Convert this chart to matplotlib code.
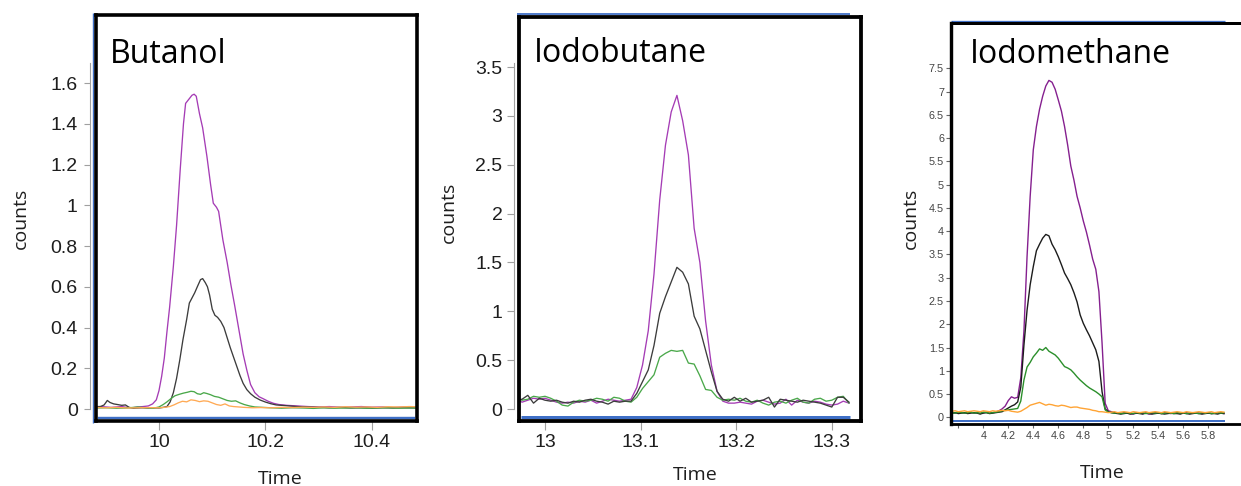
import matplotlib
matplotlib.use('Agg')
import matplotlib.pyplot as plt
from matplotlib.lines import Line2D

plt.rcParams['font.family'] = ['Liberation Sans', 'DejaVu Sans']

W, H = 1241, 486

# ---------------- data: Butanol ----------------
bt_purple_t = [9.880, 9.890, 9.900, 9.910, 9.920, 9.930, 9.940, 9.950, 9.960, 9.970,
               9.980, 9.988, 9.995, 10.000, 10.005, 10.010, 10.015, 10.020, 10.027, 10.033,
               10.040, 10.046, 10.050, 10.056, 10.062, 10.066, 10.070, 10.076, 10.082, 10.090,
               10.097, 10.102, 10.108, 10.112, 10.120, 10.128, 10.135, 10.142, 10.150, 10.158,
               10.165, 10.172, 10.180, 10.188, 10.196, 10.205, 10.215, 10.225, 10.24, 10.26,
               10.28, 10.30, 10.32, 10.34, 10.36, 10.38, 10.40, 10.42, 10.44, 10.46,
               10.485]
bt_purple_v = [0.010, 0.012, 0.010, 0.008, 0.010, 0.012, 0.008, 0.006, 0.010, 0.012,
               0.015, 0.025, 0.045, 0.09, 0.16, 0.25, 0.38, 0.50, 0.70, 0.90,
               1.18, 1.40, 1.50, 1.52, 1.54, 1.545, 1.535, 1.45, 1.38, 1.24,
               1.10, 1.01, 0.99, 0.97, 0.83, 0.72, 0.61, 0.51, 0.39, 0.27,
               0.19, 0.12, 0.08, 0.06, 0.05, 0.038, 0.028, 0.022, 0.018, 0.015,
               0.012, 0.010, 0.012, 0.008, 0.010, 0.012, 0.009, 0.010, 0.007, 0.010,
               0.010]
bt_black_t = [9.880, 9.890, 9.897, 9.903, 9.908, 9.915, 9.922, 9.930, 9.937, 9.944,
              9.952, 9.960, 9.970, 9.980, 9.990, 10.000, 10.008, 10.015, 10.021, 10.027,
              10.033, 10.039, 10.045, 10.052, 10.057, 10.062, 10.067, 10.072, 10.078, 10.082,
              10.087, 10.091, 10.095, 10.100, 10.105, 10.110, 10.116, 10.122, 10.128, 10.134,
              10.140, 10.146, 10.152, 10.158, 10.165, 10.172, 10.180, 10.190, 10.200, 10.210,
              10.22, 10.24, 10.26, 10.28, 10.30, 10.32, 10.34, 10.36, 10.38, 10.40,
              10.42, 10.44, 10.46, 10.485]
bt_black_v = [0.012, 0.012, 0.020, 0.042, 0.032, 0.025, 0.022, 0.018, 0.020, 0.008,
              0.004, 0.005, 0.006, 0.005, 0.006, 0.005, 0.008, 0.012, 0.035, 0.08,
              0.15, 0.24, 0.34, 0.44, 0.52, 0.545, 0.57, 0.60, 0.635, 0.64,
              0.62, 0.60, 0.56, 0.49, 0.46, 0.45, 0.43, 0.40, 0.35, 0.30,
              0.255, 0.21, 0.165, 0.126, 0.095, 0.075, 0.058, 0.044, 0.034, 0.026,
              0.020, 0.016, 0.012, 0.010, 0.008, 0.006, 0.008, 0.005, 0.006, 0.004,
              0.006, 0.005, 0.006, 0.005]
bt_green_t = [9.880, 9.900, 9.920, 9.940, 9.960, 9.975, 9.990, 10.000, 10.008, 10.015,
              10.022, 10.030, 10.038, 10.046, 10.053, 10.060, 10.066, 10.072, 10.078, 10.084,
              10.090, 10.097, 10.104, 10.112, 10.120, 10.128, 10.136, 10.144, 10.152, 10.160,
              10.170, 10.180, 10.195, 10.21, 10.23, 10.25, 10.27, 10.29, 10.31, 10.33,
              10.35, 10.37, 10.39, 10.41, 10.43, 10.45, 10.47, 10.485]
bt_green_v = [0.005, 0.006, 0.004, 0.005, 0.010, 0.006, 0.004, 0.010, 0.022, 0.035,
              0.050, 0.065, 0.072, 0.078, 0.082, 0.087, 0.085, 0.075, 0.072, 0.080,
              0.076, 0.070, 0.062, 0.058, 0.050, 0.042, 0.038, 0.040, 0.030, 0.022,
              0.015, 0.010, 0.008, 0.006, 0.004, 0.006, 0.005, 0.003, 0.006, 0.004,
              0.005, 0.006, 0.004, 0.005, 0.006, 0.004, 0.005, 0.005]
bt_orange_t = [9.880, 9.900, 9.920, 9.940, 9.960, 9.980, 10.000, 10.010, 10.020, 10.028,
               10.036, 10.044, 10.052, 10.060, 10.068, 10.076, 10.084, 10.092, 10.100, 10.108,
               10.116, 10.124, 10.132, 10.140, 10.150, 10.160, 10.175, 10.19, 10.21, 10.23,
               10.25, 10.27, 10.29, 10.31, 10.33, 10.35, 10.37, 10.39, 10.41, 10.43,
               10.45, 10.47, 10.485]
bt_orange_v = [0.008, 0.006, 0.008, 0.005, 0.006, 0.007, 0.006, 0.008, 0.012, 0.020,
               0.030, 0.038, 0.035, 0.045, 0.042, 0.036, 0.040, 0.038, 0.030, 0.022,
               0.018, 0.025, 0.015, 0.012, 0.010, 0.008, 0.006, 0.007, 0.006, 0.008,
               0.007, 0.009, 0.008, 0.010, 0.008, 0.011, 0.009, 0.010, 0.008, 0.011,
               0.010, 0.012, 0.011]
bt_xticks = [10.0, 10.2, 10.4]
bt_xticklabels = ['10', '10.2', '10.4']
bt_yticks = [0, 0.2, 0.4, 0.6, 0.8, 1.0, 1.2, 1.4, 1.6]
bt_yticklabels = ['0', '0.2', '0.4', '0.6', '0.8', '1', '1.2', '1.4', '1.6']

# ---------------- data: Iodobutane ----------------
ib_time = [12.970, 12.976, 12.982, 12.988, 12.994, 13.000, 13.006, 13.012, 13.018, 13.024,
           13.030, 13.036, 13.042, 13.048, 13.054, 13.060, 13.066, 13.072, 13.078, 13.084,
           13.090, 13.096, 13.102, 13.108, 13.114, 13.120, 13.126, 13.132, 13.138, 13.144,
           13.150, 13.156, 13.162, 13.168, 13.174, 13.180, 13.186, 13.192, 13.198, 13.204,
           13.210, 13.216, 13.222, 13.228, 13.234, 13.240, 13.246, 13.252, 13.258, 13.264,
           13.270, 13.276, 13.282, 13.288, 13.294, 13.300, 13.306, 13.312, 13.318]
ib_purple = [0.10, 0.07, 0.09, 0.11, 0.10, 0.11, 0.09, 0.07, 0.06, 0.07,
             0.06, 0.08, 0.07, 0.09, 0.06, 0.08, 0.10, 0.09, 0.08, 0.09,
             0.10, 0.22, 0.45, 0.80, 1.38, 2.14, 2.70, 3.04, 3.21, 2.95,
             2.60, 1.85, 1.50, 0.90, 0.45, 0.18, 0.08, 0.06, 0.06, 0.07,
             0.06, 0.05, 0.08, 0.09, 0.07, 0.05, 0.06, 0.10, 0.04, 0.09,
             0.07, 0.06, 0.08, 0.07, 0.05, 0.04, 0.05, 0.08, 0.06]
ib_black = [0.09, 0.10, 0.14, 0.06, 0.11, 0.09, 0.08, 0.09, 0.07, 0.06,
            0.08, 0.07, 0.09, 0.10, 0.08, 0.07, 0.05, 0.08, 0.07, 0.08,
            0.08, 0.16, 0.28, 0.40, 0.65, 0.98, 1.15, 1.30, 1.45, 1.40,
            1.28, 0.95, 0.82, 0.60, 0.38, 0.18, 0.10, 0.08, 0.12, 0.08,
            0.11, 0.07, 0.08, 0.09, 0.12, 0.02, 0.10, 0.09, 0.08, 0.07,
            0.09, 0.08, 0.07, 0.06, 0.04, 0.02, 0.12, 0.12, 0.07]
ib_green = [0.11, 0.09, 0.10, 0.13, 0.12, 0.13, 0.11, 0.08, 0.04, 0.03,
            0.07, 0.09, 0.08, 0.09, 0.11, 0.10, 0.08, 0.12, 0.11, 0.08,
            0.07, 0.12, 0.21, 0.28, 0.35, 0.53, 0.57, 0.60, 0.59, 0.60,
            0.47, 0.46, 0.34, 0.20, 0.19, 0.12, 0.09, 0.10, 0.09, 0.11,
            0.08, 0.07, 0.09, 0.06, 0.04, 0.07, 0.08, 0.06, 0.09, 0.11,
            0.07, 0.06, 0.10, 0.11, 0.08, 0.09, 0.12, 0.13, 0.06]
ib_xticks = [13.0, 13.1, 13.2, 13.3]
ib_xticklabels = ['13', '13.1', '13.2', '13.3']
ib_yticks = [0, 0.5, 1.0, 1.5, 2.0, 2.5, 3.0, 3.5]
ib_yticklabels = ['0', '0.5', '1', '1.5', '2', '2.5', '3', '3.5']

# ---------------- data: Iodomethane ----------------
im_time = [3.750, 3.775, 3.800, 3.825, 3.850, 3.875, 3.900, 3.925, 3.950, 3.975,
           4.000, 4.025, 4.050, 4.075, 4.100, 4.125, 4.150, 4.175, 4.200, 4.225,
           4.250, 4.275, 4.300, 4.325, 4.350, 4.375, 4.400, 4.425, 4.450, 4.475,
           4.500, 4.525, 4.550, 4.575, 4.600, 4.625, 4.650, 4.675, 4.700, 4.725,
           4.750, 4.775, 4.800, 4.825, 4.850, 4.875, 4.900, 4.925, 4.950, 4.975,
           5.000, 5.025, 5.050, 5.075, 5.100, 5.125, 5.150, 5.175, 5.200, 5.225,
           5.250, 5.275, 5.300, 5.325, 5.350, 5.375, 5.400, 5.425, 5.450, 5.475,
           5.500, 5.525, 5.550, 5.575, 5.600, 5.625, 5.650, 5.675, 5.700, 5.725,
           5.750, 5.775, 5.800, 5.825, 5.850, 5.875, 5.900, 5.925]
im_purple = [0.10, 0.09, 0.11, 0.10, 0.09, 0.10, 0.11, 0.09, 0.10, 0.08,
             0.10, 0.11, 0.09, 0.10, 0.11, 0.14, 0.18, 0.24, 0.36, 0.44,
             0.41, 0.43, 0.85, 1.85, 3.45, 4.75, 5.75, 6.25, 6.62, 6.90,
             7.12, 7.24, 7.20, 7.05, 6.82, 6.58, 6.25, 5.85, 5.40, 5.10,
             4.75, 4.50, 4.22, 3.98, 3.70, 3.40, 3.18, 2.70, 1.60, 0.30,
             0.14, 0.12, 0.10, 0.09, 0.08, 0.10, 0.09, 0.08, 0.07, 0.09,
             0.10, 0.08, 0.09, 0.07, 0.08, 0.10, 0.09, 0.08, 0.10, 0.09,
             0.08, 0.09, 0.10, 0.08, 0.09, 0.10, 0.08, 0.09, 0.10, 0.09,
             0.08, 0.10, 0.09, 0.08, 0.09, 0.10, 0.09, 0.08]
im_black = [0.09, 0.10, 0.08, 0.09, 0.10, 0.08, 0.09, 0.10, 0.09, 0.07,
            0.09, 0.10, 0.08, 0.09, 0.10, 0.11, 0.12, 0.16, 0.20, 0.24,
            0.27, 0.33, 0.65, 1.55, 2.30, 2.85, 3.24, 3.58, 3.72, 3.85,
            3.93, 3.90, 3.72, 3.60, 3.45, 3.28, 3.10, 2.98, 2.85, 2.68,
            2.48, 2.20, 2.02, 1.88, 1.75, 1.60, 1.45, 1.20, 0.55, 0.18,
            0.12, 0.10, 0.09, 0.08, 0.07, 0.08, 0.09, 0.07, 0.08, 0.09,
            0.08, 0.07, 0.09, 0.08, 0.07, 0.08, 0.09, 0.08, 0.07, 0.08,
            0.09, 0.08, 0.08, 0.07, 0.09, 0.08, 0.07, 0.08, 0.09, 0.08,
            0.07, 0.08, 0.09, 0.08, 0.08, 0.07, 0.09, 0.08]
im_green = [0.10, 0.09, 0.11, 0.10, 0.09, 0.10, 0.11, 0.09, 0.10, 0.09,
            0.11, 0.10, 0.09, 0.10, 0.11, 0.12, 0.14, 0.15, 0.16, 0.17,
            0.18, 0.19, 0.35, 0.80, 1.08, 1.18, 1.30, 1.38, 1.47, 1.44,
            1.50, 1.42, 1.38, 1.34, 1.27, 1.18, 1.09, 1.06, 1.02, 0.95,
            0.87, 0.80, 0.74, 0.68, 0.63, 0.59, 0.55, 0.50, 0.44, 0.16,
            0.11, 0.10, 0.09, 0.10, 0.08, 0.09, 0.10, 0.09, 0.08, 0.10,
            0.09, 0.10, 0.08, 0.09, 0.10, 0.09, 0.10, 0.08, 0.09, 0.10,
            0.09, 0.08, 0.10, 0.09, 0.10, 0.08, 0.09, 0.10, 0.09, 0.08,
            0.10, 0.09, 0.10, 0.08, 0.09, 0.10, 0.09, 0.10]
im_orange = [0.13, 0.14, 0.12, 0.13, 0.14, 0.12, 0.13, 0.14, 0.13, 0.12,
             0.14, 0.13, 0.12, 0.14, 0.13, 0.14, 0.15, 0.14, 0.15, 0.13,
             0.12, 0.11, 0.13, 0.17, 0.21, 0.26, 0.28, 0.30, 0.32, 0.29,
             0.26, 0.28, 0.27, 0.25, 0.24, 0.26, 0.25, 0.23, 0.21, 0.22,
             0.22, 0.20, 0.19, 0.18, 0.17, 0.15, 0.14, 0.12, 0.12, 0.11,
             0.10, 0.11, 0.12, 0.10, 0.11, 0.12, 0.11, 0.10, 0.12, 0.11,
             0.10, 0.11, 0.12, 0.10, 0.11, 0.12, 0.11, 0.10, 0.12, 0.11,
             0.10, 0.11, 0.12, 0.11, 0.10, 0.12, 0.11, 0.10, 0.11, 0.12,
             0.11, 0.10, 0.11, 0.12, 0.10, 0.11, 0.12, 0.11]
im_xticks = [3.8, 4.0, 4.2, 4.4, 4.6, 4.8, 5.0, 5.2, 5.4, 5.6, 5.8]
im_xticklabels = ['', '4', '4.2', '4.4', '4.6', '4.8', '5', '5.2', '5.4', '5.6', '5.8']
im_yticks = [0, 0.5, 1.0, 1.5, 2.0, 2.5, 3.0, 3.5, 4.0, 4.5, 5.0, 5.5, 6.0, 6.5, 7.0, 7.5]
im_yticklabels = ['0', '0.5', '1', '1.5', '2', '2.5', '3', '3.5', '4', '4.5',
                  '5', '5.5', '6', '6.5', '7', '7.5']

titles = ['Butanol', 'Iodobutane', 'Iodomethane']
x_label = 'Time'
y_label = 'counts'

# ---------------- drawing ----------------
TEXT_FONT = ['Open Sans', 'DejaVu Sans']
BLUE = '#3f6fc6'
AXGRAY = '#a0a0a0'

fig = plt.figure(figsize=(W / 100, H / 100), dpi=100)
fig.patch.set_facecolor('white')


def px_axes(x0, y_top, x1, y_bot):
    ax = fig.add_axes([x0 / W, 1 - y_bot / H, (x1 - x0) / W, (y_bot - y_top) / H])
    ax.patch.set_visible(False)
    for s in ax.spines.values():
        s.set_visible(False)
    return ax


def px_line(x0, y0, x1, y1, color, lw_px, cap='butt'):
    fig.add_artist(Line2D([x0 / W, x1 / W], [1 - y0 / H, 1 - y1 / H],
                          transform=fig.transFigure, color=color,
                          lw=lw_px * 0.72, solid_capstyle=cap, zorder=5))


def px_text(x, y, s, **kw):
    fig.text(x / W, 1 - y / H, s, **kw)


# ----- Panel 1: Butanol -----
ax1 = px_axes(95.5, 15.3, 417, 420.8)
ax1.set_xlim(9.8808, 10.4845)
ax1.set_ylim(-0.0579, 1.9323)
ax1.plot(bt_purple_t, bt_purple_v, color='#a53cb5', lw=0.95)
ax1.plot(bt_black_t, bt_black_v, color='#3c3c3c', lw=0.95)
ax1.plot(bt_green_t, bt_green_v, color='#4aa84a', lw=0.95)
ax1.plot(bt_orange_t, bt_orange_v, color='#ffaa55', lw=0.95)
ax1.spines['left'].set_visible(True)
ax1.spines['left'].set_color(AXGRAY)
ax1.spines['left'].set_linewidth(0.8)
ax1.spines['left'].set_position(('outward', 4.0))
ax1.spines['left'].set_bounds(0, 1.697)
ax1.set_xticks(bt_xticks, labels=bt_xticklabels)
ax1.set_yticks(bt_yticks, labels=bt_yticklabels)
ax1.tick_params(axis='y', direction='out', length=4.3, width=0.8, color=AXGRAY,
                pad=4.5, labelsize=14, labelcolor='#1e1e1e')
ax1.tick_params(axis='x', direction='out', length=6.6, width=0.8, color=AXGRAY,
                pad=3.2, labelsize=14, labelcolor='#1e1e1e')
# frame
px_line(93.2, 13.5, 93.2, 422.5, BLUE, 1.4)
px_line(97.5, 417.8, 415, 417.8, BLUE, 2.4)
for (a, b, c, d) in [(95.5, 15.3, 417, 15.3), (417, 15.3, 417, 420.8),
                     (95.5, 420.8, 417, 420.8), (95.5, 15.3, 95.5, 420.8)]:
    px_line(a, b, c, d, 'black', 3.6, cap='projecting')
px_text(110, 62.5, titles[0], fontsize=23, family=TEXT_FONT, ha='left', va='baseline')
px_text(280.5, 484, x_label, fontsize=14, family=TEXT_FONT, ha='center', va='baseline',
        color='#1e1e1e')
px_text(21, 218.5, y_label, fontsize=14, family=TEXT_FONT, ha='center', va='center',
        rotation=90, color='#1e1e1e')

# ----- Panel 2: Iodobutane -----
ax2 = px_axes(518.7, 17, 861, 420.5)
ax2.set_xlim(12.97249, 13.33054)
ax2.set_ylim(-0.1177, 4.0123)
ax2.plot(ib_time, ib_purple, color='#a53cb5', lw=0.95)
ax2.plot(ib_time, ib_green, color='#4aa84a', lw=0.95)
ax2.plot(ib_time, ib_black, color='#3c3c3c', lw=0.95)
ax2.spines['left'].set_visible(True)
ax2.spines['left'].set_color(AXGRAY)
ax2.spines['left'].set_linewidth(0.8)
ax2.spines['left'].set_position(('outward', 3.2))
ax2.spines['left'].set_bounds(0, 3.538)
ax2.set_xticks(ib_xticks, labels=ib_xticklabels)
ax2.set_yticks(ib_yticks, labels=ib_yticklabels)
ax2.tick_params(axis='y', direction='out', length=5.0, width=0.8, color=AXGRAY,
                pad=3.4, labelsize=14, labelcolor='#1e1e1e')
ax2.tick_params(axis='x', direction='out', length=6.8, width=0.8, color=AXGRAY,
                pad=3.2, labelsize=14, labelcolor='#1e1e1e')
px_line(517, 14.2, 850, 14.2, BLUE, 1.8)
px_line(520.5, 416.8, 850, 416.8, BLUE, 3.0)
for (a, b, c, d) in [(518.7, 17, 861, 17), (861, 17, 861, 420.5),
                     (518.7, 420.5, 861, 420.5), (518.7, 17, 518.7, 420.5)]:
    px_line(a, b, c, d, 'black', 3.8, cap='projecting')
px_text(534, 61.7, titles[1], fontsize=23, family=TEXT_FONT, ha='left', va='baseline')
px_text(695.5, 480, x_label, fontsize=14, family=TEXT_FONT, ha='center', va='baseline',
        color='#1e1e1e')
px_text(449, 212.5, y_label, fontsize=14, family=TEXT_FONT, ha='center', va='center',
        rotation=90, color='#1e1e1e')

# ----- Panel 3: Iodomethane -----
ax3 = px_axes(951, 23.5, 1262, 424)
ax3.set_xlim(3.7416, 6.2296)
ax3.set_ylim(-0.144, 8.463)
ax3.plot(im_time, im_purple, color='#85208f', lw=1.0)
ax3.plot(im_time, im_black, color='#1c1c1c', lw=1.0)
ax3.plot(im_time, im_green, color='#2b8f2b', lw=1.0)
ax3.plot(im_time, im_orange, color='#ffa435', lw=1.0)
ax3.set_xticks(im_xticks, labels=im_xticklabels)
ax3.set_yticks(im_yticks, labels=im_yticklabels)
ax3.tick_params(axis='y', direction='out', length=3.6, width=0.8, color='#666666',
                pad=1.4, labelsize=7.8, labelcolor='#444444')
ax3.tick_params(axis='x', direction='out', length=2.8, width=0.8, color='#666666',
                pad=2.0, labelsize=7.8, labelcolor='#444444')
px_line(951, 21.3, 1225, 21.3, BLUE, 1.3)
px_line(952.7, 421.2, 1225, 421.2, BLUE, 2.0)
px_line(951, 23.5, 1245, 23.5, 'black', 3.0, cap='projecting')
px_line(951, 424, 1245, 424, 'black', 2.8, cap='projecting')
px_line(951, 23.5, 951, 424, 'black', 3.4, cap='projecting')
px_text(970, 62.7, titles[2], fontsize=23, family=TEXT_FONT, ha='left', va='baseline')
px_text(1102.2, 477.7, x_label, fontsize=14, family=TEXT_FONT, ha='center', va='baseline',
        color='#1e1e1e')
px_text(911, 218.5, y_label, fontsize=14, family=TEXT_FONT, ha='center', va='center',
        rotation=90, color='#1e1e1e')

fig.savefig('out.png', dpi=100, facecolor='white')
